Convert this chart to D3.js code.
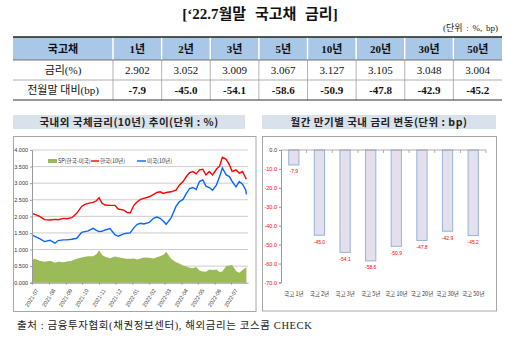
<!DOCTYPE html>
<html><head><meta charset="utf-8">
<script src="https://cdn.jsdelivr.net/npm/d3@7/dist/d3.min.js"></script>
<style>body{margin:0;background:#fff}svg{display:block}</style>
</head><body><svg id="c" width="512" height="338"></svg>
<script>
// ---- table data ----
const tenors = ["1년","2년","3년","5년","10년","20년","30년","50년"];
const rates = [2.902,3.052,3.009,3.067,3.127,3.105,3.048,3.004];
const changes = [-7.9,-45.0,-54.1,-58.6,-50.9,-47.8,-42.9,-45.2];
// ---- bar chart categories ----
const barCats = ["국고 1년","국고 2년","국고 3년","국고 5년","국고 10년","국고 20년","국고 30년","국고 50년"];
const barTicks = [0,-10,-20,-30,-40,-50,-60,-70];
// ---- line chart data ----
const dates = ["2021-07-01","2021-07-06","2021-07-15","2021-07-24","2021-08-03","2021-08-12","2021-08-18","2021-08-28","2021-09-03","2021-09-12","2021-09-21","2021-09-30","2021-10-06","2021-10-12","2021-10-21","2021-10-27","2021-11-01","2021-11-06","2021-11-12","2021-11-21","2021-11-30","2021-12-06","2021-12-16","2021-12-22","2021-12-28","2022-01-04","2022-01-10","2022-01-16","2022-01-22","2022-02-01","2022-02-09","2022-02-15","2022-02-21","2022-02-27","2022-03-04","2022-03-13","2022-03-22","2022-03-28","2022-04-04","2022-04-10","2022-04-16","2022-04-22","2022-04-28","2022-05-04","2022-05-10","2022-05-16","2022-05-22","2022-05-28","2022-06-04","2022-06-10","2022-06-15","2022-06-22","2022-06-28","2022-07-03","2022-07-10","2022-07-16","2022-07-22","2022-07-28","2022-07-29"];
const korea10y = [2.09,2.06,2.00,1.90,1.89,1.91,1.90,1.94,1.93,1.96,2.09,2.30,2.36,2.39,2.42,2.47,2.56,2.40,2.34,2.33,2.33,2.22,2.19,2.12,2.10,2.34,2.44,2.51,2.54,2.59,2.66,2.72,2.74,2.69,2.72,2.74,2.79,2.94,3.05,3.20,3.32,3.35,3.28,3.40,3.42,3.25,3.35,3.25,3.42,3.52,3.78,3.72,3.55,3.35,3.40,3.30,3.35,3.15,3.12];
const us10y = [1.44,1.40,1.33,1.24,1.28,1.19,1.27,1.29,1.29,1.31,1.34,1.52,1.54,1.56,1.64,1.58,1.54,1.55,1.59,1.63,1.45,1.40,1.47,1.49,1.50,1.66,1.76,1.79,1.77,1.82,1.94,1.98,1.94,1.85,1.76,1.95,2.30,2.44,2.51,2.69,2.84,2.87,2.81,3.05,3.10,2.91,2.87,2.79,2.94,3.20,3.46,3.25,3.20,3.05,2.89,3.05,2.97,2.79,2.66];
const spread = [0.68,0.72,0.66,0.63,0.66,0.60,0.63,0.62,0.64,0.66,0.72,0.76,0.78,0.80,0.80,0.86,0.98,0.84,0.78,0.74,0.79,0.77,0.74,0.72,0.72,0.73,0.70,0.73,0.76,0.75,0.73,0.77,0.80,0.84,0.93,0.72,0.62,0.58,0.52,0.49,0.45,0.44,0.47,0.37,0.34,0.33,0.40,0.38,0.40,0.32,0.34,0.50,0.52,0.53,0.35,0.30,0.38,0.46,0.48];
const monthTicks = ["2021-07","2021-08","2021-09","2021-10","2021-11","2021-12","2022-01","2022-02","2022-03","2022-04","2022-05","2022-06","2022-07"];
const lineYTicks = [0,0.5,1,1.5,2,2.5,3,3.5,4];
const legendItems = ["SP(한국-미국)","한국(10년)","미국(10년)"];

const SERIF = "'Liberation Serif','DejaVu Serif','Noto Sans CJK KR',serif";
const SANS = "'Liberation Sans','Noto Sans CJK KR',sans-serif";
const KSANS = "'Noto Sans CJK KR',sans-serif";
const svg = d3.select("#c");
svg.append("rect").attr("width",512).attr("height",338).attr("fill","#fff");

// ---- title ----
svg.append("text").attr("x",260).attr("y",19).attr("text-anchor","middle")
  .attr("font-family",SERIF).attr("font-weight","bold").attr("font-size",15).attr("fill","#111")
  .attr("word-spacing",5).text("[‘22.7월말 국고채 금리]");
svg.append("text").attr("x",498).attr("y",31).attr("text-anchor","end")
  .attr("font-family",SERIF).attr("font-size",9).attr("fill","#222").attr("word-spacing",1.5).text("(단위 : %, bp)");

// ---- table ----
const tL=13,tR=502,c0=113,yTop=37,yH=60,yR1=80,yBot=100;
const colX = d3.scaleBand().domain(tenors).range([c0,tR]);
const tg = svg.append("g");
tg.append("rect").attr("x",tL).attr("y",yTop).attr("width",tR-tL).attr("height",yH-yTop).attr("fill","#a9c7e6");
const bounds=[c0].concat(tenors.slice(1).map(t=>colX(t)));
bounds.forEach(b=>{
  tg.append("line").attr("x1",b).attr("x2",b).attr("y1",yTop).attr("y2",yH).attr("stroke","#fff").attr("stroke-width",1.5);
  tg.append("line").attr("x1",b).attr("x2",b).attr("y1",yH).attr("y2",yBot).attr("stroke","#a0a0a0").attr("stroke-width",0.8);
});
tg.append("line").attr("x1",tL).attr("x2",tR).attr("y1",yTop).attr("y2",yTop).attr("stroke","#222").attr("stroke-width",1.5);
tg.append("line").attr("x1",tL).attr("x2",tR).attr("y1",yH).attr("y2",yH).attr("stroke","#555").attr("stroke-width",0.8);
tg.append("line").attr("x1",tL).attr("x2",tR).attr("y1",yR1).attr("y2",yR1).attr("stroke","#999").attr("stroke-width",0.8);
tg.append("line").attr("x1",tL).attr("x2",tR).attr("y1",yBot).attr("y2",yBot).attr("stroke","#333").attr("stroke-width",1);
function cell(x,y,txt,bold){
  tg.append("text").attr("x",x).attr("y",y).attr("text-anchor","middle").attr("font-family",SERIF)
   .attr("font-size",11).attr("font-weight",bold?"bold":"normal").attr("fill","#111").text(txt);
}
cell((tL+c0)/2,52.5,"국고채",true);
cell((tL+c0)/2,74,"금리(%)",false);
cell((tL+c0)/2,94,"전월말 대비(bp)",false);
tenors.forEach((t,i)=>{
  const cx=colX(t)+colX.bandwidth()/2;
  cell(cx,52.5,t,true);
  cell(cx,74,rates[i].toFixed(3),false);
  cell(cx,94,changes[i].toFixed(1),true);
});

// ---- panel headers ----
function band(x0,x1,txt){
  svg.append("rect").attr("x",x0).attr("y",115).attr("width",x1-x0).attr("height",14).attr("fill","#d9e1ea");
  svg.append("text").attr("x",(x0+x1)/2).attr("y",126).attr("text-anchor","middle").attr("font-family",KSANS)
   .attr("font-weight","bold").attr("font-size",10.5).attr("letter-spacing",0.5).attr("fill","#222").text(txt);
}
band(13,245,"국내외 국체금리(10년) 추이(단위 : %)");
band(262,496,"월간 만기별 국내 금리 변동(단위 : bp)");

// ---- left line chart ----
svg.append("rect").attr("x",13.5).attr("y",136.5).attr("width",242.5).attr("height",175).attr("fill","#fff").attr("stroke","#a6a6a6");
const parse=d3.timeParse("%Y-%m-%d");
const pts = dates.map((d,i)=>({date:parse(d),kr:korea10y[i],us:us10y[i],sp:spread[i]}));
const x = d3.scaleTime().domain([parse("2021-07-01"),parse("2022-08-01")]).range([32,248]);
const y = d3.scaleLinear().domain([0,4]).range([282.7,150]);
const lg = svg.append("g");
lg.selectAll("line.g").data(lineYTicks.slice(1)).enter().append("line")
  .attr("x1",32).attr("x2",248).attr("y1",d=>y(d)).attr("y2",d=>y(d)).attr("stroke","#bfbfbf").attr("stroke-width",0.8);
lg.append("path").datum(pts).attr("fill","#9bbb59")
  .attr("d",d3.area().x(d=>x(d.date)).y0(y(0)).y1(d=>y(d.sp)));
lg.append("path").datum(pts).attr("fill","none").attr("stroke","#ff0000").attr("stroke-width",1.4)
  .attr("d",d3.line().x(d=>x(d.date)).y(d=>y(d.kr)));
lg.append("path").datum(pts).attr("fill","none").attr("stroke","#0a64ff").attr("stroke-width",1.4)
  .attr("d",d3.line().x(d=>x(d.date)).y(d=>y(d.us)));
const yAx = lg.append("g").attr("transform","translate(32,0)")
  .call(d3.axisLeft(y).tickValues(lineYTicks).tickFormat(d=>d.toFixed(3)).tickSize(2).tickPadding(2));
yAx.select(".domain").attr("stroke","#999");
yAx.selectAll("line").attr("stroke","#999");
yAx.selectAll("text").attr("font-family",SANS).attr("font-size",5.5).attr("fill","#333");
const mParse=d3.timeParse("%Y-%m");
const xAx = lg.append("g").attr("transform","translate(0,282.7)")
  .call(d3.axisBottom(x).tickValues(monthTicks.map(mParse)).tickFormat(d3.timeFormat("%Y-%m")).tickSize(2).tickSizeOuter(0));
xAx.select(".domain").attr("stroke","#999");
xAx.selectAll("line").attr("stroke","#999");
xAx.selectAll("text").attr("font-family",SANS).attr("font-size",5.5).attr("fill","#444")
  .attr("text-anchor","end").attr("dy",0).attr("transform","translate(2,5) rotate(-58)");
// legend
const legY=161;
lg.append("rect").attr("x",48).attr("y",legY-2).attr("width",9).attr("height",4).attr("fill","#9bbb59");
lg.append("line").attr("x1",91).attr("x2",99).attr("y1",legY).attr("y2",legY).attr("stroke","#ff0000").attr("stroke-width",1.4);
lg.append("line").attr("x1",137).attr("x2",146).attr("y1",legY).attr("y2",legY).attr("stroke","#0a64ff").attr("stroke-width",1.4);
[58,100,147].forEach((lx,i)=>{
  lg.append("text").attr("x",lx).attr("y",legY+2).attr("font-family",KSANS).attr("font-size",5.5).attr("fill","#333").text(legendItems[i]);
});

// ---- right bar chart ----
svg.append("rect").attr("x",262.5).attr("y",136.5).attr("width",234).attr("height",174.5).attr("fill","#fff").attr("stroke","#a6a6a6");
const xb = d3.scaleBand().domain(barCats).range([281,486]);
const yb = d3.scaleLinear().domain([-70,0]).range([282.5,150]);
const bg = svg.append("g");
const bw = xb.bandwidth();
bg.selectAll("rect.bar").data(changes).enter().append("rect")
  .attr("x",(d,i)=>xb(barCats[i])+bw*0.3).attr("width",bw*0.4)
  .attr("y",yb(0)).attr("height",d=>yb(d)-yb(0))
  .attr("fill","#e4dfec").attr("stroke","#95b3d7").attr("stroke-width",1);
bg.selectAll("text.lab").data(changes).enter().append("text")
  .attr("x",(d,i)=>xb(barCats[i])+bw/2).attr("y",d=>yb(d)+8.5).attr("text-anchor","middle")
  .attr("font-family",SANS).attr("font-size",5).attr("fill","#ff0000").text(d=>d.toFixed(1));
const ybAx = bg.append("g").attr("transform","translate(281,0)")
  .call(d3.axisLeft(yb).tickValues(barTicks).tickFormat(d=>d.toFixed(1)).tickSize(2).tickPadding(2));
ybAx.select(".domain").attr("stroke","#999");
ybAx.selectAll("line").attr("stroke","#999");
ybAx.selectAll("text").attr("font-family",SANS).attr("font-size",5.5).attr("fill",d=>d<0?"#ff0000":"#333");
// x axis at zero
bg.append("line").attr("x1",281).attr("x2",486).attr("y1",yb(0)).attr("y2",yb(0)).attr("stroke","#999").attr("stroke-width",0.8);
barCats.forEach(c=>{
  const bx=xb(c)+bw;
  bg.append("line").attr("x1",bx).attr("x2",bx).attr("y1",yb(0)).attr("y2",yb(0)+3).attr("stroke","#999").attr("stroke-width",0.8);
  bg.append("text").attr("x",xb(c)+bw/2).attr("y",296).attr("text-anchor","middle").attr("font-family",KSANS)
    .attr("font-size",5.5).attr("fill","#333").text(c);
});

// ---- footer ----
svg.append("text").attr("x",17).attr("y",329).attr("font-family",SERIF).attr("font-size",10.5).attr("fill","#222")
  .attr("letter-spacing",0.6).text("출처 : 금융투자협회(채권정보센터), 해외금리는 코스콤 CHECK");
</script></body></html>
